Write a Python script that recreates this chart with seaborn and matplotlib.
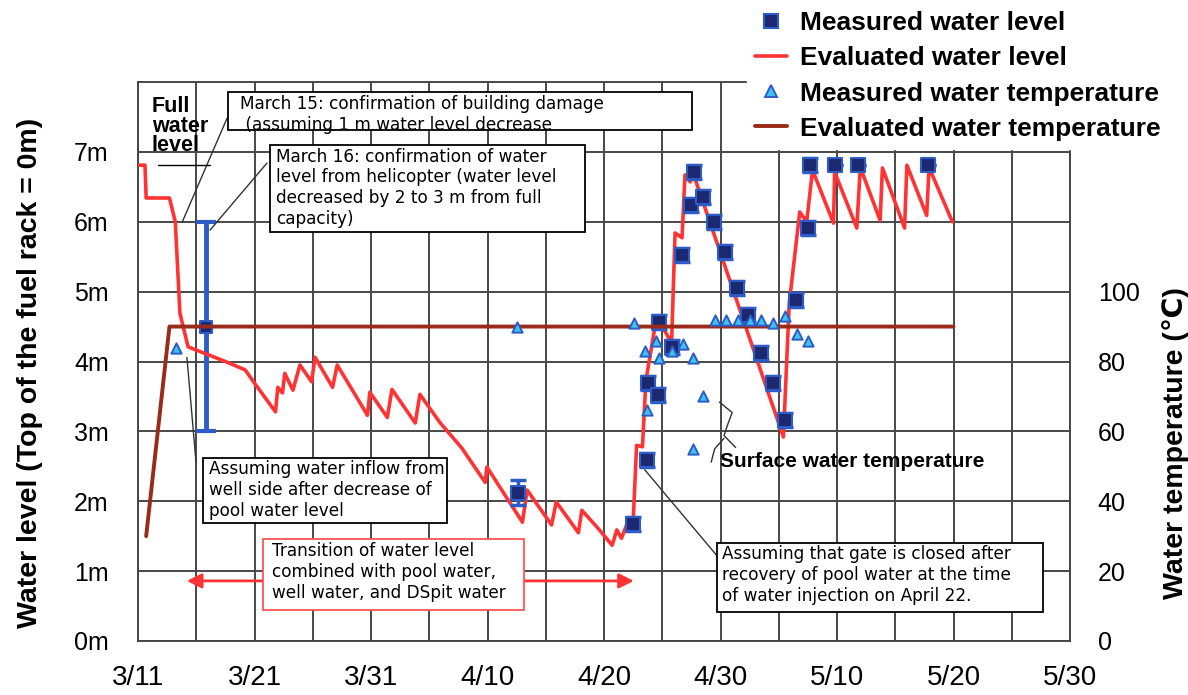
import numpy as np
import pandas as pd
import seaborn as sns
import matplotlib.pyplot as plt
from matplotlib.patches import Rectangle
from matplotlib.lines import Line2D

# x values are days counted from 3/11
eval_day = [0, 0.6, 0.7, 2.7, 3.2, 3.6, 4.3, 7.5, 9.2, 10.0, 11.8, 12.0, 12.4, 12.6, 13.3,
            13.9, 14.9, 15.2, 16.7, 17.1, 19.7, 19.9, 21.4, 21.8, 23.8, 24.2, 25.9, 27.8,
            29.8, 29.95, 33.0, 33.4, 35.5, 35.9, 37.8, 38.1, 39.4, 40.7, 41.1, 41.5, 42.1,
            42.5, 42.8, 43.3, 43.6, 44.5, 44.7, 45.8, 46.1, 46.7, 46.95, 47.4, 47.6, 55.4,
            55.9, 56.8, 57.4, 57.9, 59.7, 59.8, 61.7, 62.0, 63.7, 63.9, 65.8, 66.0, 67.7,
            67.9, 69.9]
eval_level = [6.81, 6.81, 6.34, 6.34, 6.0, 4.69, 4.21, 4.0, 3.88, 3.69, 3.28, 3.63, 3.55,
              3.83, 3.59, 3.95, 3.71, 4.06, 3.63, 3.95, 3.23, 3.56, 3.2, 3.6, 3.12, 3.53,
              3.13, 2.76, 2.27, 2.49, 1.70, 2.16, 1.66, 1.99, 1.55, 1.87, 1.63, 1.37, 1.59,
              1.47, 1.73, 1.70, 2.80, 2.78, 3.73, 4.62, 4.60, 4.26, 5.84, 5.77, 6.67, 6.57,
              6.72, 2.92, 4.83, 6.14, 6.0, 6.74, 5.98, 6.71, 5.91, 6.78, 6.02, 6.77, 5.91,
              6.81, 6.09, 6.78, 6.0]

meas_day = [32.6, 42.5, 43.7, 43.8, 44.6, 44.7, 45.8, 46.7, 47.5, 47.7, 48.5, 49.4, 50.4,
            51.4, 52.4, 53.5, 54.5, 55.5, 56.5, 57.5, 57.7, 59.8, 61.8, 67.8]
meas_level = [2.12, 1.68, 2.59, 3.69, 3.52, 4.56, 4.21, 5.52, 6.24, 6.71, 6.35, 5.99, 5.57,
              5.05, 4.66, 4.12, 3.69, 3.16, 4.88, 5.91, 6.81, 6.81, 6.81, 6.81]
meas_err = [0.18, 0.1, 0.1, 0.1, 0.1, 0.1, 0.1, 0.1, 0.1, 0.1, 0.1, 0.1, 0.1,
            0.1, 0.1, 0.1, 0.1, 0.1, 0.1, 0.1, 0.1, 0, 0, 0]

heli_day = [5.8]
heli_level = [4.5]
heli_err = [1.5]

temp_day = [3.3, 32.5, 42.6, 43.5, 43.7, 44.5, 44.7, 45.8, 46.8, 47.6, 47.6, 48.5, 49.5,
            50.5, 51.5, 52.5, 53.5, 54.5, 55.5, 56.6, 57.5]
temp_val = [84, 90, 91, 83, 66, 86, 81, 83, 85, 81, 55, 70, 92, 92, 92, 92, 92, 91, 93, 88, 86]

eval_temp_day = [0.7, 2.7, 70.0]
eval_temp = [30, 90, 90]

date_ticks = [0, 10, 20, 30, 40, 50, 60, 70, 80]
date_labels = ['3/11', '3/21', '3/31', '4/10', '4/20', '4/30', '5/10', '5/20', '5/30']
level_ticks = [0, 1, 2, 3, 4, 5, 6, 7]
level_labels = ['0m', '1m', '2m', '3m', '4m', '5m', '6m', '7m']
temp_ticks = [0, 20, 40, 60, 80, 100]

RED = '#ff3333'
BROWN = '#9a2a1a'
NAVY = '#1c2870'
BLUE = '#2d5cc6'
CYAN = '#3ec3ef'
GRID = '#474747'

sns.set_theme(style='white')
plt.rcParams['font.family'] = ['Liberation Sans', 'DejaVu Sans']
plt.rcParams['text.color'] = 'black'
plt.rcParams['axes.labelcolor'] = 'black'
plt.rcParams['xtick.color'] = 'black'
plt.rcParams['ytick.color'] = 'black'

fig = plt.figure(figsize=(11.88, 6.95), dpi=100)
ax = fig.add_axes([138 / 1188, 1 - 641 / 695, 932 / 1188, 559 / 695])
ax2 = ax.twinx()

level_df = pd.DataFrame({'day': eval_day, 'level': eval_level})
meas_df = pd.DataFrame({'day': meas_day, 'level': meas_level, 'err': meas_err})
temp_df = pd.DataFrame({'day': temp_day, 'temp': temp_val})
etemp_df = pd.DataFrame({'day': eval_temp_day, 'temp': eval_temp})

# water level on the left axis
ax.errorbar(heli_day, heli_level, yerr=heli_err, fmt='none', ecolor=BLUE, elinewidth=3.5,
            capsize=7, capthick=3, zorder=3)
sns.lineplot(data=level_df, x='day', y='level', ax=ax, color=RED, lw=2.6, sort=False,
             estimator=None, zorder=4)
ax.errorbar(meas_df['day'], meas_df['level'], yerr=meas_df['err'], fmt='none', ecolor=BLUE,
            elinewidth=2.5, capsize=5.5, capthick=2.5, zorder=5)
sns.scatterplot(data=meas_df, x='day', y='level', ax=ax, marker='s', s=110, color=NAVY,
                edgecolor=BLUE, linewidth=1.5, zorder=6)
sns.scatterplot(x=heli_day, y=heli_level, ax=ax, marker='s', s=70, color=NAVY,
                edgecolor=BLUE, linewidth=1.5, zorder=6)

ax.set_xlim(0, 80)
ax.set_ylim(0, 8)
ax.set_xticks(date_ticks)
ax.set_xticklabels(date_labels, fontsize=20)
ax.set_xticks(np.arange(5, 80, 10), minor=True)
ax.set_yticks(level_ticks)
ax.set_yticklabels(level_labels, fontsize=18)
ax.grid(True, which='both', color=GRID, lw=1.4)
ax.set_axisbelow(True)
ax.tick_params(axis='both', which='both', length=0)
ax.tick_params(axis='x', pad=17)
ax.tick_params(axis='y', pad=21)
ax.set_xlabel('')
ax.set_ylabel('Water level (Top of the fuel rack = 0m)', fontsize=20.5, fontweight='bold')
ax.yaxis.set_label_coords(-0.102, 0.48)
for sp in ax.spines.values():
    sp.set_color(GRID)
    sp.set_linewidth(1.4)

# water temperature on the right axis
sns.lineplot(data=etemp_df, x='day', y='temp', ax=ax2, color=BROWN, lw=2.8, sort=False,
             estimator=None, zorder=3)
sns.scatterplot(data=temp_df, x='day', y='temp', ax=ax2, marker='^', s=55, color=CYAN,
                edgecolor=BLUE, linewidth=1.4, zorder=4)
ax2.set_ylim(0, 160)
ax2.set_yticks(temp_ticks)
ax2.set_yticklabels([str(t) for t in temp_ticks], fontsize=18)
ax2.tick_params(axis='y', length=0, pad=20)
ax2.set_ylabel('Water temperature (\u2103)', fontsize=20.5, fontweight='bold')
ax2.yaxis.set_label_coords(1.099, 0.354)
ax2.grid(False)
for sp in ax2.spines.values():
    sp.set_visible(False)

T = ax.transData


def note(x0, y0, x1, y1, text, x_txt, y_txt, ec='black'):
    box = Rectangle((x0, y0), x1 - x0, y1 - y0, transform=T, fc='white', ec=ec, lw=1.3,
                    zorder=8)
    ax2.add_patch(box)
    t = ax2.text(x_txt, y_txt, text, transform=T, va='top', ha='left', fontsize=12.2,
                 family=['DejaVu Sans'], linespacing=1.2, zorder=9)
    t.set_clip_path(box)


def leader(xs, ys, color='#333333'):
    ax2.add_line(Line2D(xs, ys, transform=T, color=color, lw=1.0, zorder=7))


leader([7.64, 3.78], [7.48, 5.99])
leader([11.07, 6.18], [6.84, 5.88])
leader([4.2, 4.98], [4.06, 2.56])
leader([43.5, 50.0], [2.45, 1.16])
leader([1.72, 6.18], [6.81, 6.81], color='black')
leader([49.9, 51.0, 50.6, 50.3, 51.3], [3.42, 3.27, 3.09, 2.94, 2.77])
leader([50.3, 49.5, 49.2], [2.9, 2.75, 2.56])

note(7.73, 7.31, 47.55, 7.85, 'March 15: confirmation of building damage\n'
     ' (assuming 1 m water level decrease', 8.76, 7.81)
note(11.33, 5.85, 38.37, 7.10, 'March 16: confirmation of water\nlevel from helicopter (water level\n'
     'decreased by 2 to 3 m from full\ncapacity)', 11.85, 7.06)
note(5.58, 1.69, 26.52, 2.62, 'Assuming water inflow from\nwell side after decrease of\n'
     'pool water level', 6.1, 2.59)
ax2.annotate('', xy=(3.95, 0.86), xytext=(42.8, 0.86), xycoords=T, textcoords=T,
             arrowprops=dict(arrowstyle='<|-|>', color=RED, lw=2, mutation_scale=22),
             zorder=7)
note(10.73, 0.44, 33.1, 1.46, 'Transition of water level\ncombined with pool water,\n'
     'well water, and DSpit water', 11.5, 1.41, ec='#ff5555')
note(49.7, 0.41, 77.7, 1.40, 'Assuming that gate is closed after\nrecovery of pool water at the time\n'
     'of water injection on April 22.', 50.1, 1.37)

ax2.text(1.2, 7.80, 'Full\nwater\nlevel', transform=T, va='top', ha='left', fontsize=15.5,
         fontweight='bold', linespacing=0.92, zorder=9)
ax2.text(50.0, 2.57, 'Surface water temperature', transform=T, va='center', ha='left',
         fontsize=15, fontweight='bold', zorder=9)

handles = [
    Line2D([], [], ls='none', marker='s', ms=10, mfc=NAVY, mec=BLUE, mew=1.5),
    Line2D([], [], color=RED, lw=2.6),
    Line2D([], [], ls='none', marker='^', ms=8, mfc=CYAN, mec=BLUE, mew=1.4),
    Line2D([], [], color=BROWN, lw=2.8),
]
labels = ['Measured water level', 'Evaluated water level', 'Measured water temperature',
          'Evaluated water temperature']
leg = fig.legend(handles, labels, loc='upper left', bbox_to_anchor=(734 / 1188, 1.014),
                 frameon=True, facecolor='white', edgecolor='white', framealpha=1,
                 prop={'size': 19, 'weight': 'bold'}, handlelength=1.2, handletextpad=0.5,
                 labelspacing=0.42, borderpad=0.3, fancybox=False)

fig.savefig('out.png', dpi=100)
